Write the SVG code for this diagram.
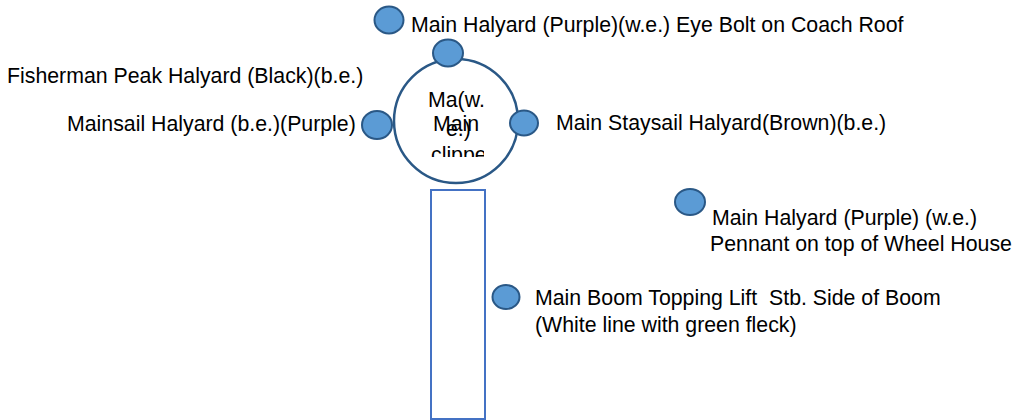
<svg xmlns="http://www.w3.org/2000/svg" width="1016" height="420" viewBox="0 0 1016 420">
<style>
.lbl{font-family:"Liberation Sans",Arial,sans-serif;font-size:21.3px;fill:#000}
.dot{fill:#5B9BD5;stroke:#2A5886;stroke-width:2}
</style>
<defs>
<clipPath id="mastclip"><rect x="424" y="84" width="60" height="73"/></clipPath>
</defs>
<rect width="1016" height="420" fill="#fff"/>
<g id="boom">
<rect x="431" y="190" width="54" height="229" fill="#fff" stroke="#4472C4" stroke-width="2"/>
</g>
<g id="mast">
<circle cx="456" cy="121" r="62" fill="#fff" stroke="#2A5886" stroke-width="2.5"/>
<g clip-path="url(#mastclip)">
<text class="lbl" x="428" y="107">Ma(w.</text>
<text class="lbl" x="433" y="131">Main</text>
<text class="lbl" x="446" y="136">e.)</text>
<text class="lbl" x="431" y="162">clipper</text>
</g>
</g>
<g id="connectors"></g>
<g id="n-eyebolt">
<ellipse class="dot" cx="389" cy="20" rx="14.5" ry="13.5"/>
<text class="lbl" x="411" y="32">Main Halyard (Purple)(w.e.) Eye Bolt on Coach Roof</text>
</g>
<g id="n-peak">
<ellipse class="dot" cx="448" cy="53" rx="15" ry="13.5"/>
<text class="lbl" x="7" y="83">Fisherman Peak Halyard (Black)(b.e.)</text>
</g>
<g id="n-mainsail">
<ellipse class="dot" cx="377" cy="125" rx="15" ry="14"/>
<text class="lbl" x="67" y="131">Mainsail Halyard (b.e.)(Purple)</text>
</g>
<g id="n-staysail">
<ellipse class="dot" cx="524" cy="123" rx="14" ry="12.5"/>
<text class="lbl" x="556" y="130">Main Staysail Halyard(Brown)(b.e.)</text>
</g>
<g id="n-pennant">
<ellipse class="dot" cx="690" cy="202" rx="15" ry="13"/>
<text class="lbl" x="712" y="225">Main Halyard (Purple) (w.e.)</text>
<text class="lbl" x="710" y="251">Pennant on top of Wheel House</text>
</g>
<g id="n-topping">
<ellipse class="dot" cx="506" cy="297" rx="13.5" ry="12"/>
<text class="lbl" x="535" y="305" xml:space="preserve">Main Boom Topping Lift  Stb. Side of Boom</text>
<text class="lbl" x="535" y="332">(White line with green fleck)</text>
</g>
</svg>
